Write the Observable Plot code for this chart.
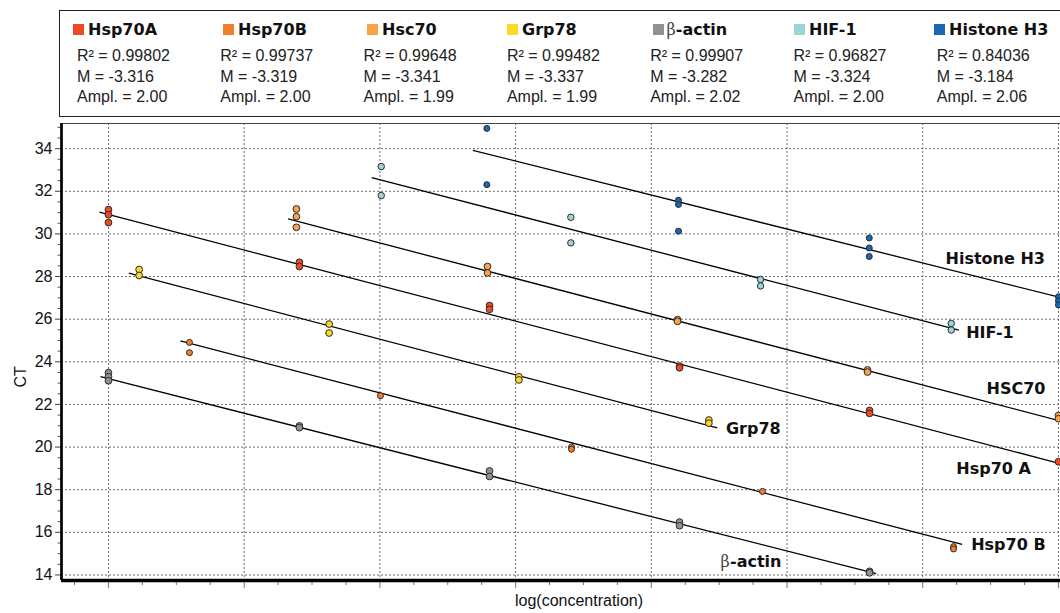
<!DOCTYPE html>
<html>
<head>
<meta charset="utf-8">
<script src="https://cdn.jsdelivr.net/npm/d3@7"></script>
<script src="https://cdn.jsdelivr.net/npm/@observablehq/plot@0.6"></script>
<style>
  html, body { margin: 0; padding: 0; background: #fff; }
  body { width: 1060px; height: 613px; overflow: hidden; position: relative;
         font-family: "Liberation Sans", Arial, sans-serif; color: #222; }
  #legendBox { position: absolute; left: 59px; top: 10px; width: 1010px; height: 107px;
               border: 1.5px solid #222; box-sizing: border-box; }
  .sw { position: absolute; width: 11px; height: 11px; top: 24px; }
  .nm { position: absolute; top: 21.5px; font: bold 16px "DejaVu Sans", Verdana, sans-serif;
        line-height: 16px; white-space: nowrap; color: #111; }
  .beta { font-family: "DejaVu Serif", "Liberation Serif", serif; font-weight: normal; color: #444; }
  .st { position: absolute; top: 46px; font-size: 16px; line-height: 20.7px; white-space: nowrap; color: #222; }
  #chart { position: absolute; left: 0; top: 117px; }
</style>
</head>
<body>
<div id="legendBox"></div>
<div id="legend"></div>
<div id="chart"></div>
<script>
// ---------- data ----------
const genes = ["Hsp70A", "Hsp70B", "Hsc70", "Grp78", "β-actin", "HIF-1", "Histone H3"];
const geneColors = ["#EF4B23", "#F47C2D", "#F9A24A", "#FDD824", "#8F9294", "#9BD5D6", "#1868B2"];
const r2Values = ["0.99802", "0.99737", "0.99648", "0.99482", "0.99907", "0.96827", "0.84036"];
const slopeValues = ["-3.316", "-3.319", "-3.341", "-3.337", "-3.282", "-3.324", "-3.184"];
const amplValues = ["2.00", "2.00", "1.99", "1.99", "2.02", "2.00", "2.06"];

const hsp70aX  = [0, 0, 0, 1.407, 1.407, 2.808, 2.808, 4.208, 4.208, 5.608, 5.608, 7.0];
const hsp70aCT = [31.14, 30.90, 30.53, 28.67, 28.47, 26.64, 26.46, 23.80, 23.72, 21.72, 21.58, 19.31];
const hsp70bX  = [0.597, 0.597, 2.004, 3.412, 3.412, 4.819, 6.227, 6.227];
const hsp70bCT = [24.91, 24.43, 22.41, 20.00, 19.90, 17.92, 15.33, 15.22];
const hsc70X   = [1.385, 1.385, 1.385, 2.793, 2.793, 4.193, 4.193, 5.593, 5.593, 7.0, 7.0];
const hsc70CT  = [31.17, 30.81, 30.31, 28.47, 28.17, 25.98, 25.90, 23.62, 23.52, 21.48, 21.33];
const grp78X   = [0.226, 0.226, 1.626, 1.626, 3.024, 3.024, 4.424, 4.424];
const grp78CT  = [28.33, 28.05, 25.77, 25.35, 23.30, 23.15, 21.27, 21.12];
const actinX   = [0, 0, 0, 1.407, 1.407, 2.808, 2.808, 4.208, 4.208, 5.608, 5.608];
const actinCT  = [23.49, 23.30, 23.11, 20.99, 20.91, 18.88, 18.62, 16.48, 16.31, 14.17, 14.10];
const hif1X    = [2.01, 2.01, 3.407, 3.407, 4.805, 4.805, 6.21, 6.21];
const hif1CT   = [33.16, 31.80, 30.78, 29.58, 27.86, 27.56, 25.80, 25.49];
const histoneX  = [2.788, 2.788, 4.20, 4.20, 4.20, 5.606, 5.606, 5.606, 7.0, 7.0, 7.0];
const histoneCT = [34.95, 32.31, 31.58, 31.38, 30.13, 29.81, 29.34, 28.94, 27.05, 26.86, 26.67];

// fitted standard-curve segments (start/end) per gene
const fitX0  = [-0.066, 0.53, 1.324, 0.15, -0.059, 1.94, 2.685];
const fitCT0 = [31.02, 24.98, 30.70, 28.16, 23.30, 32.64, 33.92];
const fitX1  = [7.015, 6.29, 7.015, 4.486, 5.657, 6.266, 7.015];
const fitCT1 = [19.22, 15.43, 21.22, 20.90, 14.06, 25.49, 27.02];

// in-plot curve labels
const labelText = ["Histone H3", "HIF-1", "HSC70", "Hsp70 A", "Hsp70 B", "Grp78"];
const labelX    = [6.168, 6.32, 6.47, 6.247, 6.357, 4.55];
const labelCT   = [28.82, 25.36, 22.71, 18.98, 15.43, 20.84];
const actinLabelX = 4.51, actinLabelCT = 14.61;

const yMajor = d3.range(14, 35, 2);
const yMinor = d3.range(14, 35.01, 0.5).filter(v => v % 2 !== 0);
const xMajor = d3.range(0, 8);
const xMinor = d3.range(-0.25, 7.01, 0.25).filter(v => v % 1 !== 0);

// ---------- build tables ----------
const pointSets = [[hsp70aX, hsp70aCT], [hsp70bX, hsp70bCT], [hsc70X, hsc70CT], [grp78X, grp78CT],
                   [actinX, actinCT], [hif1X, hif1CT], [histoneX, histoneCT]];
const dotR = [4.7, 3.7, 4.7, 4.7, 4.7, 4.3, 3.7];
const points = pointSets.flatMap(([xs, ys], g) => xs.map((x, i) => ({gene: genes[g], g, x, ct: ys[i]})));
const fits = genes.map((gene, g) => ({gene, x1: fitX0[g], y1: fitCT0[g], x2: fitX1[g], y2: fitCT1[g]}));
const labels = labelText.map((t, i) => ({t, x: labelX[i], y: labelCT[i]}));

// ---------- legend ----------
const legend = document.getElementById("legend");
const swatchLeft = [73, 223, 367, 507, 653, 794, 934];
genes.forEach((gene, i) => {
  const sw = document.createElement("div");
  sw.className = "sw"; sw.style.left = swatchLeft[i] + "px"; sw.style.background = geneColors[i];
  legend.appendChild(sw);
  const nm = document.createElement("div");
  nm.className = "nm"; nm.style.left = (swatchLeft[i] + (gene.startsWith("β") ? 13.5 : 15)) + "px";
  if (gene.startsWith("β")) nm.innerHTML = '<span class="beta">β</span>' + gene.slice(1);
  else nm.textContent = gene;
  legend.appendChild(nm);
  const st = document.createElement("div");
  st.className = "st"; st.style.left = (77 + i * 143.3) + "px";
  st.innerHTML = `R² = ${r2Values[i]}<br>M = ${slopeValues[i]}<br>Ampl. = ${amplValues[i]}`;
  legend.appendChild(st);
});

// ---------- chart ----------
const xDomain = [-0.346, 7.015], yDomain = [13.74, 35.18];
const grid = {stroke: "#6a6a6a", strokeOpacity: 1, strokeWidth: 1, strokeDasharray: "2,2"};
const boldFont = "DejaVu Sans, Verdana, sans-serif";

const chart = Plot.plot({
  width: 1060, height: 496,
  marginLeft: 61, marginRight: 0, marginTop: 6, marginBottom: 33,
  style: {fontFamily: "Liberation Sans, Arial, sans-serif", fontSize: "16px", background: "transparent", color: "#222"},
  x: {domain: xDomain, axis: null},
  y: {domain: yDomain, axis: null},
  marks: [
    Plot.ruleX(xMajor, {...grid}),
    Plot.ruleY(yMajor, {...grid}),
    Plot.axisY(yMinor, {anchor: "left", tickSize: 3.5, text: null, stroke: "#555"}),
    Plot.axisY(yMajor, {anchor: "left", tickSize: 6, tickPadding: 3, stroke: "#444", fontSize: 16, fill: "#111", label: null}),
    Plot.axisX(xMinor, {anchor: "bottom", tickSize: 5, text: null, stroke: "#777"}),
    Plot.axisX(xMajor, {anchor: "bottom", tickSize: 8, text: null, stroke: "#777", label: null}),
    Plot.ruleY([yDomain[1]], {stroke: "#444", strokeWidth: 1}),
    Plot.ruleX([xDomain[0]], {stroke: "#000", strokeWidth: 2.7}),
    Plot.ruleY([yDomain[0]], {stroke: "#000", strokeWidth: 3.3}),
    Plot.link(fits, {x1: "x1", y1: "y1", x2: "x2", y2: "y2", stroke: "#000", strokeWidth: 1.3, clip: true}),
    Plot.dot(points, {x: "x", y: "ct", r: d => dotR[d.g], fill: d => geneColors[d.g], stroke: "#2b2b2b", strokeWidth: 1, clip: true}),
    Plot.text(labels, {x: "x", y: "y", text: "t", textAnchor: "start", fontFamily: boldFont, fontWeight: "bold", fontSize: 16, fill: "#111"}),
    Plot.text(["β"], {x: actinLabelX, y: actinLabelCT, textAnchor: "start", fontFamily: "DejaVu Serif, Liberation Serif, serif", fontSize: 16, fill: "#444"}),
    Plot.text(["-actin"], {x: actinLabelX, y: actinLabelCT, dx: 9.5, textAnchor: "start", fontFamily: boldFont, fontWeight: "bold", fontSize: 16, fill: "#111"}),
    Plot.text(["log(concentration)"], {frameAnchor: "bottom", dx: 18, dy: 25, fontSize: 16, fill: "#111"}),
    Plot.text(["CT"], {frameAnchor: "left", dx: -41, dy: 35.5, rotate: -90, fontSize: 16, fill: "#111"})
  ]
});
document.getElementById("chart").appendChild(chart);
</script>
</body>
</html>
